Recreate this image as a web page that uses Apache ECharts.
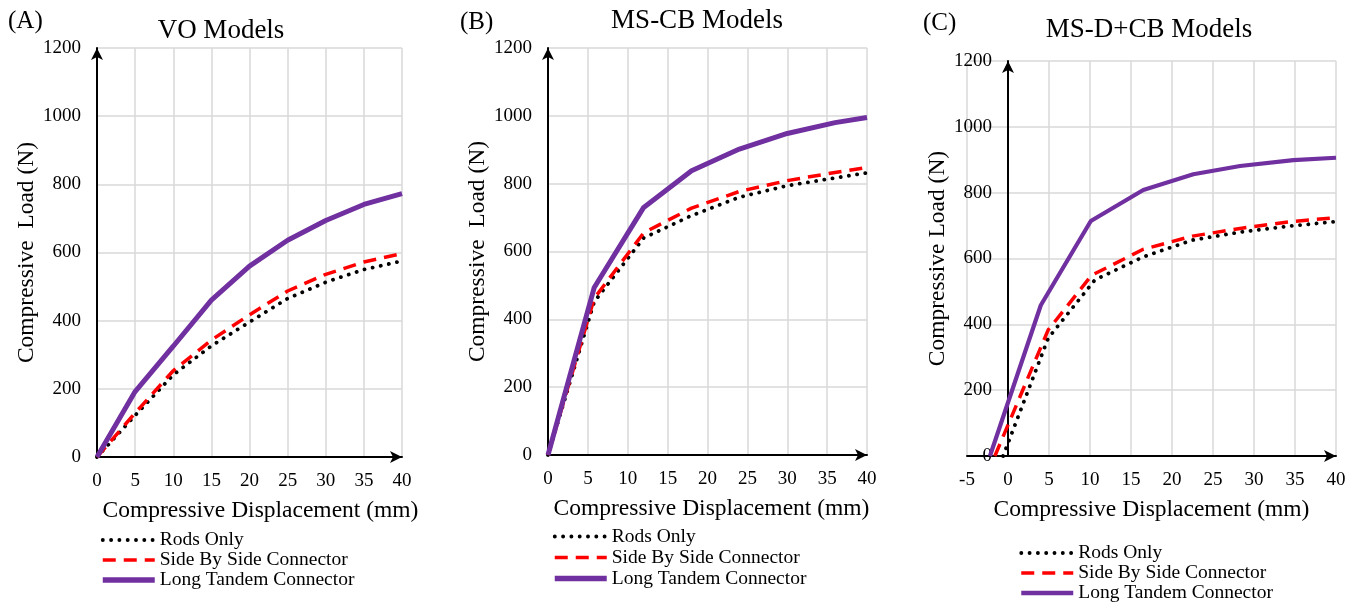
<!DOCTYPE html>
<html style="height: 100%;width:100%">
	<head>
		<meta charset="utf-8">
	</head>
	<body style="height: 100%; width:100%; margin:0; background:#fff">
		<div id="chart-panel" style="height: 603px;width: 1359px"></div>
		<script type="text/javascript" src="https://cdn.jsdelivr.net/npm/echarts@6.0.0/dist/echarts.min.js"></script>
		<script type="text/javascript">
			// (A) VO Models
			var voDisp = [0, 5, 10, 15, 20, 25, 30, 35, 40];
			var voRods = [0, 122, 241, 326, 396, 465, 513, 550, 575];
			var voSide = [0, 129, 253, 343, 417, 487, 536, 572, 597];
			var voLong = [0, 192, 325, 460, 560, 636, 694, 741, 773];

			// (B) MS-CB Models
			var cbDisp = [0, 5.8, 12, 18, 24, 30, 36, 40];
			var cbRods = [0, 452, 640, 706, 760, 794, 817, 832];
			var cbSide = [0, 462, 655, 728, 777, 809, 833, 848];
			var cbLong = [0, 494, 730, 838, 902, 948, 980, 995];

			// (C) MS-D+CB Models
			var dcbRodsDisp = [-0.6, 4.9, 10.6, 16.5, 22.5, 28.5, 34.5, 40];
			var dcbRods = [0, 358, 535, 605, 656, 681, 699, 712];
			var dcbSideDisp = [-1.6, 4.9, 10.2, 16.5, 22.5, 28.5, 34.5, 40];
			var dcbSide = [0, 383, 549, 628, 668, 692, 712, 724];
			var dcbLongDisp = [-2.2, 4, 10.1, 16.5, 22.6, 28.3, 34.8, 40];
			var dcbLong = [0, 458, 714, 808, 856, 881, 899, 906];

			var names = ['Rods Only', 'Side By Side Connector', 'Long Tandem Connector'];
			var panelTags = ['(A)', '(B)', '(C)'];
			var panelTitles = ['VO Models', 'MS-CB Models', 'MS-D+CB Models'];

			var FONT = '"Liberation Serif", "Times New Roman", serif';

			function pairs(xs, ys) {
				return xs.map(function(x, i) { return [x, ys[i]]; });
			}

			var rodsStyle = { color: '#000', width: 3.8, type: [0.1, 8.2], cap: 'round' };
			var sideStyle = { color: '#ff0000', width: 3.5, type: [13, 8] };
			function longStyle(w) { return { color: '#7030a0', width: w, type: 'solid' }; }

			function line(name, idx, data, style) {
				return {
					name: name,
					type: 'line',
					xAxisIndex: idx,
					yAxisIndex: idx,
					data: data,
					symbol: 'none',
					lineStyle: style,
					itemStyle: { color: style.color },
					animation: false
				};
			}

			function xAxis(idx, min, shift) {
				return {
					type: 'value',
					gridIndex: idx,
					min: min,
					max: 40,
					interval: 5,
					name: 'Compressive Displacement (mm)',
					nameLocation: 'middle',
					nameGap: 42,
					nameTextStyle: { fontFamily: FONT, fontSize: 23.5, color: '#000', padding: [0, 0, 0, shift] },
					axisLine: {
						onZero: true,
						symbol: ['none', 'arrow'],
						symbolSize: [9, 12],
						lineStyle: { color: '#000', width: 2 }
					},
					axisTick: { show: false },
					axisLabel: { fontFamily: FONT, fontSize: 19, color: '#000', margin: 15 },
					splitLine: { show: true, lineStyle: { color: '#d9d9d9', width: 1.5 } }
				};
			}

			function yAxis(idx, name, offset) {
				return {
					type: 'value',
					gridIndex: idx,
					min: 0,
					max: 1200,
					interval: 200,
					offset: offset,
					name: name,
					nameLocation: 'middle',
					nameGap: 52,
					nameTextStyle: { fontFamily: FONT, fontSize: 23.5, color: '#000' },
					axisLine: {
						show: true,
						onZero: false,
						symbol: ['none', 'arrow'],
						symbolSize: [9, 12],
						lineStyle: { color: '#000', width: 2 }
					},
					axisTick: { show: false },
					axisLabel: {
						fontFamily: FONT, fontSize: 19, color: '#000', margin: 16,
						formatter: function(v) { return String(v); }
					},
					splitLine: { show: true, lineStyle: { color: '#d9d9d9', width: 1.5 } }
				};
			}

			function legend(left, top, lh, longW) {
				return {
					orient: 'vertical',
					left: left,
					top: top,
					padding: 0,
					itemGap: 0,
					itemWidth: 52,
					itemHeight: 12,
					selectedMode: false,
					textStyle: { fontFamily: FONT, fontSize: 19.5, color: '#000', lineHeight: lh },
					data: [
						{ name: names[0], lineStyle: rodsStyle, itemStyle: { opacity: 0 } },
						{ name: names[1], lineStyle: sideStyle, itemStyle: { opacity: 0 } },
						{ name: names[2], lineStyle: longStyle(longW), itemStyle: { opacity: 0 } }
					]
				};
			}

			var tagPos = [[8, 22], [460, 23], [923, 24]];
			var titlePos = [[221, 31], [697, 21], [1149, 30]];
			var graphics = [];
			for (var i = 0; i < 3; i++) {
				graphics.push({
					type: 'text', left: tagPos[i][0], top: tagPos[i][1] - 13,
					style: { text: panelTags[i], font: '25px ' + FONT, fill: '#000' }
				});
				graphics.push({
					type: 'text', x: titlePos[i][0], y: titlePos[i][1],
					style: { text: panelTitles[i], font: '27px ' + FONT, fill: '#000', align: 'center', verticalAlign: 'middle' }
				});
			}

			var dom = document.getElementById('chart-panel');
			var myChart = echarts.init(dom);
			var option = {
				backgroundColor: '#fff',
				animation: false,
				graphic: graphics,
				legend: [legend(100, 530, 20, 5.5), legend(552, 526, 21, 5.5), legend(1019, 543, 20, 4.5)],
				grid: [
					{ left: 97, top: 48, width: 305, height: 409 },
					{ left: 548, top: 48, width: 319, height: 407 },
					{ left: 967, top: 61, width: 369, height: 395 }
				],
				xAxis: [xAxis(0, 0, 22), xAxis(1, 0, 8), xAxis(2, -5, 0)],
				yAxis: [
					yAxis(0, 'Compressive  Load (N)', 0),
					yAxis(1, 'Compressive  Load (N)', 0),
					yAxis(2, 'Compressive Load (N)', -41)
				],
				series: [
					line(names[0], 0, pairs(voDisp, voRods), rodsStyle),
					line(names[1], 0, pairs(voDisp, voSide), sideStyle),
					line(names[2], 0, pairs(voDisp, voLong), longStyle(5)),
					line(names[0], 1, pairs(cbDisp, cbRods), rodsStyle),
					line(names[1], 1, pairs(cbDisp, cbSide), sideStyle),
					line(names[2], 1, pairs(cbDisp, cbLong), longStyle(5)),
					line(names[0], 2, pairs(dcbRodsDisp, dcbRods), rodsStyle),
					line(names[1], 2, pairs(dcbSideDisp, dcbSide), sideStyle),
					line(names[2], 2, pairs(dcbLongDisp, dcbLong), longStyle(4.2))
				]
			};
			myChart.setOption(option);
		</script>
	</body>
</html>
